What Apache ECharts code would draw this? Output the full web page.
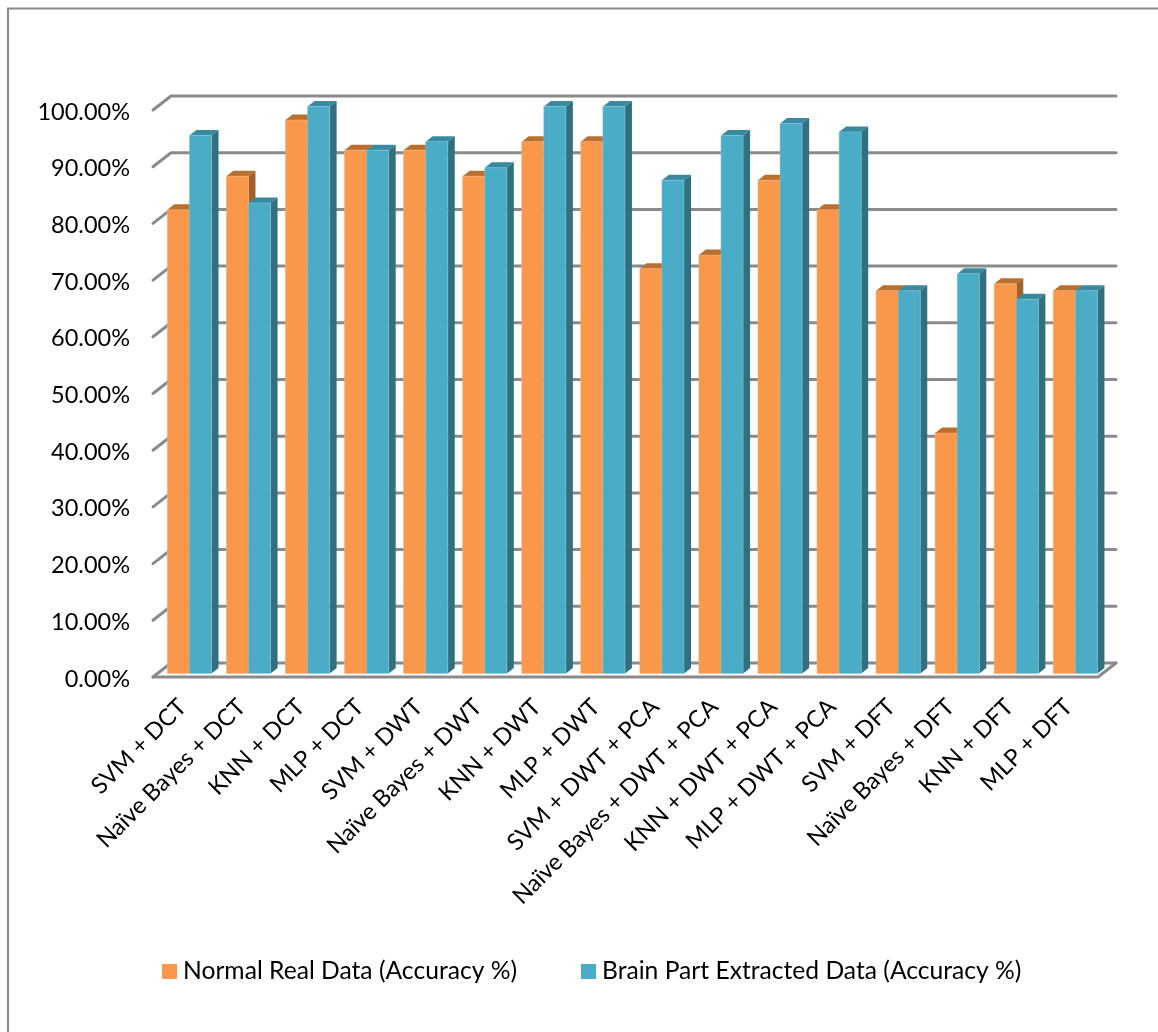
<!DOCTYPE html>
<html>
<head>
<meta charset="utf-8">
<title>Classifier accuracy</title>
<style>html,body{margin:0;padding:0;background:#fff}#chart{width:1158px;height:1032px}</style>
<script src="https://cdn.jsdelivr.net/npm/echarts@6/dist/echarts.min.js"></script>
</head>
<body>
<div id="chart"></div>
<script>
const categories = [
  'SVM + DCT', 'Naïve Bayes + DCT', 'KNN + DCT', 'MLP + DCT',
  'SVM + DWT', 'Naïve Bayes + DWT', 'KNN + DWT', 'MLP + DWT',
  'SVM + DWT + PCA', 'Naïve Bayes + DWT + PCA', 'KNN + DWT + PCA', 'MLP + DWT + PCA',
  'SVM + DFT', 'Naïve Bayes + DFT', 'KNN + DFT', 'MLP + DFT'
];
const normalReal = [81.8, 87.7, 97.6, 92.3, 92.3, 87.7, 93.8, 93.8, 71.4, 73.8, 87.0, 81.8, 67.5, 42.4, 68.75, 67.5];
const brainExtracted = [94.9, 83.0, 100, 92.3, 93.8, 89.2, 100, 100, 87.0, 94.9, 97.0, 95.5, 67.5, 70.5, 66.0, 67.5];
const yTicks = [0, 10, 20, 30, 40, 50, 60, 70, 80, 90, 100];
const normalName = 'Normal Real Data (Accuracy %)';
const brainName = 'Brain Part Extracted Data (Accuracy %)';

const FONT = 'Lato, "Open Sans", sans-serif';
const WALL = '#8a8a8a';
const ORANGE = { front: '#f9974a', top: '#b9702f', side: '#a0622a', edge: '#fbb27a' };
const TEAL = { front: '#4aacc6', top: '#398aa0', side: '#31707f', edge: '#86c8d9' };

// Projection of the pseudo-3D box: the back wall sits up and to the right of the front plane.
const WALL_DX = 18, WALL_DY = 14;
const BAR_DX = 7, BAR_DY = 5.5;
const BAR_INSET_X = 14.3, BAR_LIFT = 3.5, BAR_W = 22.1;

// Draws one tick's line: diagonal on the side wall, then straight across the back wall.
function renderWall(params, api) {
  const cs = params.coordSys;
  const y = api.coord([0, api.value(0)])[1];
  const x0 = cs.x, x1 = cs.x + cs.width;
  const children = [{
    type: 'polyline',
    shape: { points: [[x0, y], [x0 + WALL_DX, y - WALL_DY], [x1 + WALL_DX, y - WALL_DY]] },
    style: { stroke: WALL, lineWidth: 3, fill: null, lineJoin: 'round', lineCap: 'round' }
  }];
  if (api.value(0) === 0) {
    children.push({
      type: 'polyline',
      shape: { points: [[x0, y], [x1, y], [x1 + WALL_DX, y - WALL_DY]] },
      style: { stroke: WALL, lineWidth: 3, fill: null, lineJoin: 'round', lineCap: 'round' }
    });
  }
  return { type: 'group', children };
}

// Returns a renderItem that draws a three-faced box for one of the two bars in a band.
function renderBox(slot, colors) {
  return function (params, api) {
    const idx = api.value(0);
    const base = api.coord([idx, 0]);
    const topPt = api.coord([idx, api.value(1)]);
    const band = api.size([1, 0])[0];
    const xl = base[0] - band / 2 + BAR_INSET_X + slot * BAR_W;
    const xr = xl + BAR_W;
    const yb = base[1] - BAR_LIFT;
    const yt = topPt[1] - BAR_LIFT;
    return {
      type: 'group',
      children: [
        {
          type: 'polygon',
          shape: { points: [[xl, yt], [xl + BAR_DX, yt - BAR_DY], [xr + BAR_DX, yt - BAR_DY], [xr, yt]] },
          style: { fill: colors.top }
        },
        {
          type: 'polygon',
          shape: { points: [[xr, yt], [xr + BAR_DX, yt - BAR_DY], [xr + BAR_DX, yb - BAR_DY], [xr, yb]] },
          style: { fill: colors.side }
        },
        {
          type: 'rect',
          shape: { x: xl, y: yt, width: BAR_W, height: yb - yt },
          style: { fill: colors.front, stroke: colors.edge, lineWidth: 0.5 }
        }
      ]
    };
  };
}

const chart = echarts.init(document.getElementById('chart'), null, { renderer: 'canvas' });
chart.setOption({
  animation: false,
  backgroundColor: '#ffffff',
  textStyle: { fontFamily: FONT },
  graphic: [
    { type: 'polyline', z: 0, silent: true,
      shape: { points: [[8, 1032], [8, 8.5], [1158, 8.5]] },
      style: { stroke: '#8a8a8a', lineWidth: 2, fill: null } }
  ],
  grid: { left: 153, right: 60, top: 110, bottom: 355, containLabel: false },
  legend: {
    data: [
      { name: normalName, itemStyle: { color: ORANGE.front } },
      { name: brainName, itemStyle: { color: TEAL.front } }
    ],
    left: 157, top: 954,
    icon: 'rect', itemWidth: 15, itemHeight: 15, itemGap: 64,
    textStyle: { fontFamily: FONT, fontSize: 24.65, color: '#000', padding: [0, 0, 0, 1] },
    selectedMode: false
  },
  xAxis: {
    type: 'category',
    data: categories,
    boundaryGap: true,
    axisLine: { show: false },
    axisTick: { show: false },
    axisLabel: {
      interval: 0, rotate: 45, margin: 26,
      fontFamily: FONT, fontSize: 23.5, color: '#000'
    }
  },
  yAxis: {
    type: 'value', min: 0, max: 100, interval: 10,
    axisLine: { show: false },
    axisTick: { show: false },
    splitLine: { show: false },
    axisLabel: {
      margin: 23, fontFamily: FONT, fontSize: 23.5, color: '#000',
      verticalAlign: 'top', lineHeight: 4,
      formatter: v => v.toFixed(2) + '%'
    }
  },
  series: [
    {
      type: 'custom', name: 'wall', coordinateSystem: 'cartesian2d', clip: false, z: 1,
      data: yTicks.map(t => [t]), encode: { y: 0 }, renderItem: renderWall, silent: true
    },
    {
      type: 'custom', name: normalName, coordinateSystem: 'cartesian2d', clip: false, z: 2,
      itemStyle: { color: ORANGE.front },
      data: normalReal.map((v, i) => [i, v]), encode: { x: 0, y: 1 },
      renderItem: renderBox(0, ORANGE)
    },
    {
      type: 'custom', name: brainName, coordinateSystem: 'cartesian2d', clip: false, z: 3,
      itemStyle: { color: TEAL.front },
      data: brainExtracted.map((v, i) => [i, v]), encode: { x: 0, y: 1 },
      renderItem: renderBox(1, TEAL)
    }
  ]
});
</script>
</body>
</html>
